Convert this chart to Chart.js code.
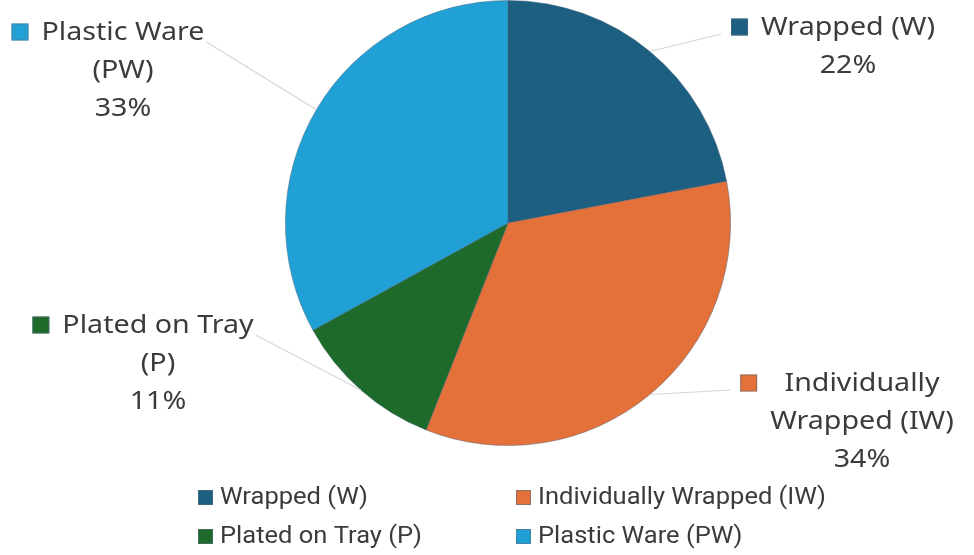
<!DOCTYPE html>
<html>
<head>
<meta charset="utf-8">
<script src="https://cdn.jsdelivr.net/npm/chart.js@4.4.0/dist/chart.umd.min.js"></script>
<style>
  html, body { margin: 0; padding: 0; background: #fff; }
  #wrap { position: relative; width: 974px; height: 555px; }
</style>
</head>
<body>
<div id="wrap"><canvas id="chart" width="974" height="555"></canvas></div>
<script>
// data
const categories = ["Wrapped (W)", "Individually Wrapped (IW)", "Plated on Tray (P)", "Plastic Ware (PW)"];
const shares = [22, 34, 11, 33];
const colors = ["#1c5f80", "#e4703a", "#1e6a2b", "#20a0d5"];
// text of the outside labels, line by line
const labelLines = [
  ["Wrapped (W)"],
  ["Individually", "Wrapped (IW)"],
  ["Plated on Tray", "(P)"],
  ["Plastic Ware", "(PW)"]
];

// where each outside label block sits (center x, first line y, side)
const labelPos = [
  { cx: 848, y: 28, side: "right" },
  { cx: 862, y: 384, side: "right" },
  { cx: 158, y: 326, side: "left" },
  { cx: 123, y: 33, side: "left" }
];

const labelFont = '25px "Noto Sans"';
const legendFont = '23px Roboto';
const lineGap = 38;

// draw text squeezed horizontally by sx
function squeezeText(ctx, t, x, y, sx) {
  ctx.save();
  ctx.translate(x, y);
  ctx.scale(sx, 1);
  ctx.fillText(t, 0, 0);
  ctx.restore();
}

const outsideLabels = {
  id: "outsideLabels",
  afterDatasetsDraw(chart) {
    const ctx = chart.ctx;
    const meta = chart.getDatasetMeta(0);
    ctx.save();
    ctx.font = labelFont;
    const lsx = 163 / ctx.measureText("Plastic Ware").width;
    meta.data.forEach((arc, i) => {
      const p = arc.getProps(["x", "y", "startAngle", "endAngle", "outerRadius"], true);
      const mid = (p.startAngle + p.endAngle) / 2;
      const sx = p.x + Math.cos(mid) * p.outerRadius;
      const sy = p.y + Math.sin(mid) * p.outerRadius;
      const pos = labelPos[i];
      const lines = labelLines[i].concat([shares[i] + "%"]);
      const widest = Math.max(...labelLines[i].map(t => ctx.measureText(t).width)) * lsx;
      const left = pos.cx - widest / 2;
      const boxSize = 17;
      const boxX = left - 13 - boxSize;

      // leader line
      let ex, ey;
      if (pos.side === "right") { ex = boxX - 10; ey = pos.y + 6; }
      else { ex = pos.cx + widest / 2 + 2; ey = pos.y + 9; }
      ctx.strokeStyle = "#d6d6d6";
      ctx.lineWidth = 1.2;
      ctx.beginPath();
      ctx.moveTo(sx, sy);
      ctx.lineTo(ex, ey);
      ctx.stroke();

      // marker box
      ctx.fillStyle = colors[i];
      ctx.fillRect(boxX, pos.y - boxSize / 2 - 1, boxSize, boxSize);
      ctx.strokeStyle = "rgba(90,110,130,0.6)";
      ctx.lineWidth = 1;
      ctx.strokeRect(boxX + 0.5, pos.y - boxSize / 2 - 0.5, boxSize - 1, boxSize - 1);

      ctx.fillStyle = "#3b3b3b";
      ctx.textAlign = "center";
      ctx.textBaseline = "middle";
      lines.forEach((t, k) => squeezeText(ctx, t, pos.cx, pos.y + k * lineGap, lsx));
    });

    // legend, two columns
    const cols = [198, 516];
    const rows = [497, 536];
    ctx.font = legendFont;
    const gsx = 288 / ctx.measureText(categories[1]).width;
    ctx.textAlign = "left";
    ctx.textBaseline = "middle";
    categories.forEach((c, i) => {
      const x = cols[i % 2];
      const y = rows[Math.floor(i / 2)];
      ctx.fillStyle = colors[i];
      ctx.fillRect(x, y - 7, 15, 15);
      ctx.strokeStyle = "rgba(90,110,130,0.6)";
      ctx.strokeRect(x + 0.5, y - 6.5, 14, 14);
      ctx.fillStyle = "#3b3b3b";
      squeezeText(ctx, c, x + 22, y + 1, gsx);
    });
    ctx.restore();
  }
};

new Chart("chart", {
  type: "pie",
  data: {
    labels: categories,
    datasets: [{
      data: shares,
      backgroundColor: colors,
      borderColor: "rgba(70,95,115,0.55)",
      borderWidth: 0.8
    }]
  },
  options: {
    responsive: false,
    animation: false,
    layout: { padding: { left: 42, right: 0, top: 0, bottom: 109 } },
    plugins: {
      legend: { display: false },
      tooltip: { enabled: false }
    }
  },
  plugins: [outsideLabels]
});
</script>
</body>
</html>
